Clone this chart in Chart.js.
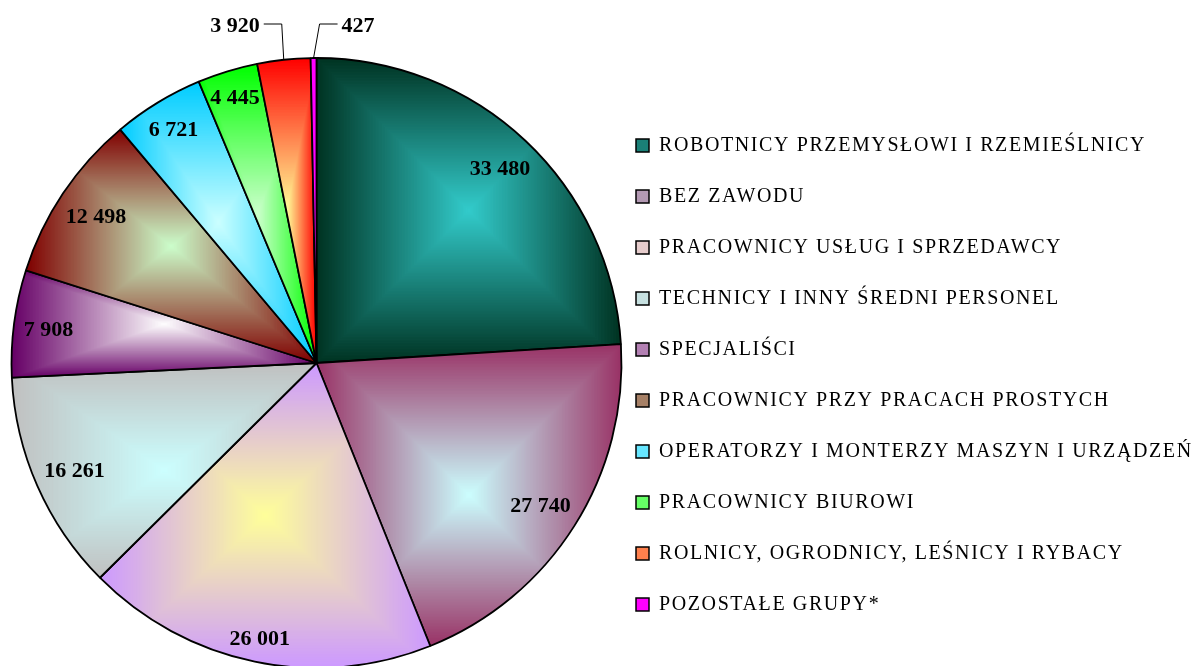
<!DOCTYPE html>
<html>
<head>
<meta charset="utf-8">
<script src="https://cdn.jsdelivr.net/npm/chart.js@4.4.1/dist/chart.umd.min.js"></script>
<style>
  html, body { margin: 0; padding: 0; background: #fff; overflow: hidden; }
  #chart { display: block; }
</style>
</head>
<body>
<canvas id="chart" width="1199" height="666"></canvas>
<script>
const categories = [
  "ROBOTNICY PRZEMYSŁOWI I RZEMIEŚLNICY",
  "BEZ ZAWODU",
  "PRACOWNICY USŁUG I SPRZEDAWCY",
  "TECHNICY I INNY ŚREDNI PERSONEL",
  "SPECJALIŚCI",
  "PRACOWNICY PRZY PRACACH PROSTYCH",
  "OPERATORZY I MONTERZY MASZYN I URZĄDZEŃ",
  "PRACOWNICY BIUROWI",
  "ROLNICY, OGRODNICY, LEŚNICY I RYBACY",
  "POZOSTAŁE GRUPY*"
];
const counts = [33480, 27740, 26001, 16261, 7908, 12498, 6721, 4445, 3920, 427];
const edgeColors = ["#003322", "#993366", "#CC99FF", "#C0C0C0", "#660066", "#800000", "#00CCFF", "#00FF00", "#FF0000", "#FF00FF"];
const centerColors = ["#33CCCC", "#CCFFFF", "#FFFF99", "#CCFFFF", "#FFFFFF", "#CCFFCC", "#CCFFFF", "#CCFFCC", "#FFFF99", "#FF00FF"];

const legendFont = "'Liberation Serif', 'Times New Roman', serif";
const legendSpacing = "1.6px";

function hexToRgb(hex) {
  const n = parseInt(hex.slice(1), 16);
  return [(n >> 16) & 255, (n >> 8) & 255, n & 255];
}

function mix(a, b, t) {
  const ca = hexToRgb(a), cb = hexToRgb(b);
  const c = ca.map((v, k) => Math.round(v + (cb[k] - v) * t));
  return `rgb(${c[0]}, ${c[1]}, ${c[2]})`;
}

function formatValue(v) {
  return String(v).replace(/\B(?=(\d{3})+(?!\d))/g, " ");
}

// bounding box of a pie slice
function arcBox(arc) {
  const { x, y, startAngle, endAngle, outerRadius: r } = arc;
  const pts = [
    [x, y],
    [x + r * Math.cos(startAngle), y + r * Math.sin(startAngle)],
    [x + r * Math.cos(endAngle), y + r * Math.sin(endAngle)]
  ];
  for (let k = -4; k <= 8; k++) {
    const a = (k * Math.PI) / 2;
    if (a > startAngle && a < endAngle) pts.push([x + r * Math.cos(a), y + r * Math.sin(a)]);
  }
  const xs = pts.map((p) => p[0]), ys = pts.map((p) => p[1]);
  return { x0: Math.min(...xs), x1: Math.max(...xs), y0: Math.min(...ys), y1: Math.max(...ys) };
}

// "from center" rectangular gradient, like the old office fills
function slicePattern(chart, box, inner, outer) {
  const off = document.createElement("canvas");
  off.width = chart.width;
  off.height = chart.height;
  const g = off.getContext("2d");
  const cx = (box.x0 + box.x1) / 2, cy = (box.y0 + box.y1) / 2;
  const hw = (box.x1 - box.x0) / 2, hh = (box.y1 - box.y0) / 2;
  const steps = 100;
  g.fillStyle = outer;
  g.fillRect(box.x0 - 6, box.y0 - 6, hw * 2 + 12, hh * 2 + 12);
  for (let i = steps; i >= 0; i--) {
    const t = i / steps;
    g.fillStyle = mix(inner, outer, t);
    g.fillRect(cx - hw * t, cy - hh * t, 2 * hw * t, 2 * hh * t);
  }
  return chart.ctx.createPattern(off, "no-repeat");
}

const gradientPlugin = {
  id: "sliceGradients",
  beforeUpdate(chart) {
    // the legend text is spaced out a bit in the original
    chart.ctx.letterSpacing = legendSpacing;
  },
  afterDatasetsUpdate(chart) {
    const meta = chart.getDatasetMeta(0);
    meta.data.forEach((arc, i) => {
      if (edgeColors[i] === centerColors[i]) return;
      arc.options.backgroundColor = slicePattern(chart, arcBox(arc), centerColors[i], edgeColors[i]);
    });
  }
};

const labelPlugin = {
  id: "sliceLabels",
  afterDatasetsDraw(chart) {
    const ctx = chart.ctx;
    const meta = chart.getDatasetMeta(0);
    ctx.save();
    ctx.letterSpacing = "0px";
    ctx.font = "bold 22px 'Liberation Serif', 'Times New Roman', serif";
    ctx.fillStyle = "#000";
    ctx.strokeStyle = "#000";
    ctx.lineWidth = 1;
    ctx.textBaseline = "middle";
    meta.data.forEach((arc, i) => {
      const text = formatValue(counts[i]);
      const mid = (arc.startAngle + arc.endAngle) / 2;
      const r = arc.outerRadius;
      const cos = Math.cos(mid), sin = Math.sin(mid);
      const w = ctx.measureText(text).width;
      if (arc.endAngle - arc.startAngle > 0.19) {
        // inside end
        const half = (w / 2) * Math.abs(cos) + 10 * Math.abs(sin);
        const d = r - 9 - half;
        ctx.textAlign = "center";
        ctx.fillText(text, arc.x + d * cos, arc.y + d * sin + 2);
      } else {
        // small slices get a leader line
        const px = arc.x + r * cos, py = arc.y + r * sin;
        const side = i === counts.length - 1 ? 1 : -1;
        const ex = px + (side > 0 ? 6 : -2);
        const ey = arc.y - r - 34;
        const tx = ex + side * 18;
        ctx.beginPath();
        ctx.moveTo(px, py);
        ctx.lineTo(ex, ey);
        ctx.lineTo(tx, ey);
        ctx.stroke();
        ctx.textAlign = side > 0 ? "left" : "right";
        ctx.fillText(text, tx + side * 4, ey + 2);
      }
    });
    ctx.restore();
  }
};

// legend width, so the pie can sit where it should
const measure = document.createElement("canvas").getContext("2d");
measure.font = "20px " + legendFont;
measure.letterSpacing = legendSpacing;
const maxTextW = Math.max(...categories.map((c) => measure.measureText(c).width));
const legendPad = 31;
const boxSize = 13;
const legendW = legendPad + boxSize + 10 + maxTextW + 10;
const legendLeft = 605;

const ctx = document.getElementById("chart").getContext("2d");

const chart = new Chart(ctx, {
  type: "pie",
  data: {
    labels: categories,
    datasets: [
      {
        data: counts,
        backgroundColor: edgeColors,
        borderColor: "#000",
        borderWidth: 1.8,
        radius: 305
      }
    ]
  },
  options: {
    responsive: false,
    animation: false,
    events: [],
    layout: {
      padding: { left: 28, top: 60, bottom: 0, right: 1199 - legendLeft - legendW }
    },
    plugins: {
      tooltip: { enabled: false },
      legend: {
        position: "right",
        maxWidth: 700,
        title: { display: true, text: "", font: { size: 12 }, padding: { top: 0, bottom: 9.6 } },
        labels: {
          font: { family: legendFont, size: 20 },
          color: "#000",
          boxWidth: boxSize,
          boxHeight: boxSize,
          padding: legendPad,
          generateLabels: function () {
            return categories.map((name, i) => ({
              text: name,
              fillStyle: mix(centerColors[i], edgeColors[i], 0.5),
              strokeStyle: "#000",
              lineWidth: 1.5,
              fontColor: "#000",
              hidden: false,
              index: i
            }));
          }
        }
      }
    }
  },
  plugins: [gradientPlugin, labelPlugin]
});
</script>
</body>
</html>
